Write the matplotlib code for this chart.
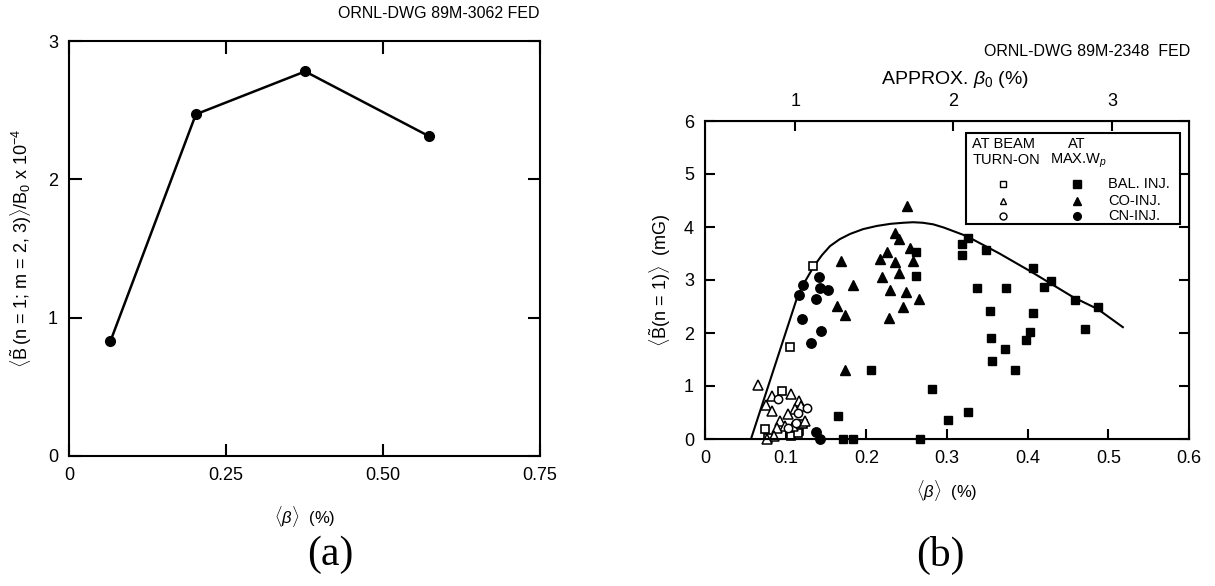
import matplotlib
matplotlib.use("Agg")
import matplotlib.pyplot as plt
from matplotlib.patches import Rectangle

plt.rcParams['font.family'] = ['Liberation Sans', 'DejaVu Sans']
plt.rcParams['mathtext.fontset'] = 'custom'
plt.rcParams['mathtext.rm'] = 'Liberation Sans'
plt.rcParams['mathtext.it'] = 'Liberation Sans:italic'

# (a) mode amplitude vs beta
a_beta = [0.066, 0.202, 0.376, 0.574]
a_amp = [0.83, 2.47, 2.78, 2.31]

# (b) open symbols: at beam turn-on
bal_on_x = [0.134, 0.105, 0.095, 0.074, 0.116, 0.107, 0.078, 0.121, 0.115]
bal_on_y = [3.26, 1.74, 0.91, 0.18, 0.15, 0.06, 0.02, 0.28, 0.12]
co_on_x = [0.066, 0.107, 0.083, 0.076, 0.083, 0.117, 0.119, 0.111, 0.103, 0.124,
           0.093, 0.099, 0.089, 0.109, 0.085, 0.077]
co_on_y = [1.02, 0.84, 0.81, 0.65, 0.53, 0.72, 0.62, 0.56, 0.47, 0.34,
           0.34, 0.25, 0.21, 0.25, 0.06, 0.00]
cn_on_x = [0.091, 0.126, 0.115, 0.113, 0.103]
cn_on_y = [0.75, 0.59, 0.50, 0.31, 0.20]

# (b) filled symbols: at max W_p
bal_max_x = [0.326, 0.319, 0.318, 0.348, 0.406, 0.429, 0.420, 0.459, 0.487, 0.471,
             0.337, 0.373, 0.353, 0.406, 0.403, 0.398, 0.355, 0.372, 0.356, 0.384,
             0.281, 0.301, 0.326, 0.267, 0.206, 0.165, 0.171, 0.184, 0.261, 0.262]
bal_max_y = [3.80, 3.67, 3.48, 3.56, 3.23, 2.99, 2.87, 2.62, 2.49, 2.07,
             2.84, 2.84, 2.42, 2.38, 2.01, 1.87, 1.91, 1.69, 1.47, 1.31,
             0.95, 0.36, 0.51, 0.00, 1.30, 0.43, 0.00, 0.00, 3.53, 3.08]
co_max_x = [0.251, 0.235, 0.240, 0.225, 0.217, 0.236, 0.254, 0.258, 0.240, 0.219,
            0.229, 0.249, 0.265, 0.245, 0.228, 0.168, 0.183, 0.164, 0.173, 0.174]
co_max_y = [4.40, 3.89, 3.77, 3.52, 3.39, 3.34, 3.61, 3.36, 3.14, 3.06,
            2.81, 2.77, 2.65, 2.49, 2.29, 3.35, 2.91, 2.51, 2.34, 1.31]
cn_max_x = [0.141, 0.122, 0.116, 0.137, 0.142, 0.152, 0.120, 0.144, 0.131, 0.137, 0.143]
cn_max_y = [3.06, 2.90, 2.71, 2.64, 2.84, 2.82, 2.26, 2.04, 1.82, 0.14, 0.00]

# hand-drawn envelope
env_x = [0.057, 0.099, 0.114, 0.122, 0.135, 0.145, 0.155, 0.167, 0.180, 0.196,
         0.213, 0.230, 0.246, 0.258, 0.270, 0.283, 0.296, 0.324, 0.365, 0.405,
         0.456, 0.487, 0.518]
env_y = [0.00, 1.96, 2.66, 2.92, 3.26, 3.47, 3.64, 3.77, 3.87, 3.96,
         4.02, 4.06, 4.08, 4.09, 4.08, 4.05, 3.99, 3.83, 3.50, 3.15,
         2.68, 2.45, 2.11]

# approximate central beta on the top axis
b0_pos = [0.112, 0.307, 0.505]
b0_labels = ["1", "2", "3"]

W, H = 1215, 586
fig = plt.figure(figsize=(W / 100, H / 100), dpi=100)


def box(l, t, r, b):
    return [l / W, 1 - b / H, (r - l) / W, (b - t) / H]


def style(ax, tl=8):
    for s in ax.spines.values():
        s.set_linewidth(1.5)
    ax.tick_params(direction="in", length=tl, width=1.5, labelsize=13,
                   top=True, right=True, pad=8)


# ---- panel (a)
ax1 = fig.add_axes(box(69, 41, 540, 456))
ax1.plot(a_beta, a_amp, "-o", color="black", lw=1.8, ms=7, clip_on=False)
ax1.set_xlim(0, 0.75)
ax1.set_ylim(0, 3)
ax1.set_xticks([0, 0.25, 0.5, 0.75])
ax1.set_xticklabels(["0", "0.25", "0.50", "0.75"])
ax1.set_yticks([0, 1, 2, 3])
style(ax1, tl=9)
ax1.set_xlabel(r"$\langle\beta\rangle$  (%)", fontsize=12, labelpad=14)
ax1.set_ylabel(r"$\langle\tilde{\mathrm{B}}\,$(n = 1; m = 2, 3)$\rangle$/B$_0$ x 10$^{-4}$",
               fontsize=13, labelpad=10)
fig.text(540 / W, 1 - 13 / H, "ORNL-DWG 89M-3062 FED", ha="right", va="center", fontsize=11.5)
fig.text(330 / W, 1 - 555 / H, "(a)", ha="center", va="center", fontsize=30,
         family=["Liberation Serif", "DejaVu Serif"])

# ---- panel (b)
ax2 = fig.add_axes(box(705, 121, 1189, 439))
ax2.plot(env_x, env_y, color="black", lw=1.5)
mk = dict(ls="none", color="black", clip_on=False)
ax2.plot(bal_on_x, bal_on_y, marker="s", ms=6, mfc="white", mew=1.2, **mk)
ax2.plot(co_on_x, co_on_y, marker="^", ms=6.5, mfc="white", mew=1.1, **mk)
ax2.plot(cn_on_x, cn_on_y, marker="o", ms=6, mfc="white", mew=1.1, **mk)
ax2.plot(bal_max_x, bal_max_y, marker="s", ms=6.3, **mk)
ax2.plot(co_max_x, co_max_y, marker="^", ms=6.5, **mk)
ax2.plot(cn_max_x, cn_max_y, marker="o", ms=6.8, **mk)
ax2.set_xlim(0, 0.6)
ax2.set_ylim(0, 6)
ax2.set_xticks([0, 0.1, 0.2, 0.3, 0.4, 0.5, 0.6])
ax2.set_xticklabels(["0", "0.1", "0.2", "0.3", "0.4", "0.5", "0.6"])
ax2.set_yticks(range(7))
style(ax2, tl=7)
ax2.tick_params(top=False)
ax2.set_xlabel(r"$\langle\beta\rangle$  (%)", fontsize=12, labelpad=8)
ax2.set_ylabel(r"$\langle\tilde{\mathrm{B}}$(n = 1)$\rangle$  (mG)", fontsize=13, labelpad=8)

top = ax2.twiny()
top.set_xlim(0, 0.6)
top.set_xticks(b0_pos)
top.set_xticklabels(b0_labels)
top.tick_params(direction="in", length=7, width=1.5, labelsize=13, pad=8)
fig.text(955 / W, 1 - 79 / H, r"APPROX. $\beta_0$ (%)", ha="center", va="center", fontsize=14)

# legend block
ax2.add_patch(Rectangle((0.539, 0.676), 0.442, 0.286, transform=ax2.transAxes,
                        fill=False, lw=1.5, zorder=5))
lt = dict(transform=ax2.transAxes, fontsize=10.5, va="center", zorder=6)
ax2.text(0.552, 0.927, "AT BEAM", **lt)
ax2.text(0.552, 0.876, "TURN-ON", **lt)
ax2.text(0.750, 0.927, "AT", **lt)
ax2.text(0.713, 0.876, r"MAX.W$_p$", **lt)
rows = [0.802, 0.748, 0.700]
names = ["BAL. INJ.", "CO-INJ.", "CN-INJ."]
for r, m, n in zip(rows, ["s", "^", "o"], names):
    ax2.plot([0.616], [r], marker=m, ms=5, mfc="white", mec="black", mew=1.0,
             transform=ax2.transAxes, zorder=6)
    ax2.plot([0.769], [r], marker=m, ms=5.5, color="black",
             transform=ax2.transAxes, zorder=6)
    ax2.text(0.833, r, n, **lt)

fig.text(1190 / W, 1 - 52 / H, "ORNL-DWG 89M-2348  FED", ha="right", va="center", fontsize=11.5)
fig.text(940 / W, 1 - 555 / H, "(b)", ha="center", va="center", fontsize=30,
         family=["Liberation Serif", "DejaVu Serif"])

fig.savefig("out.png", dpi=100)
